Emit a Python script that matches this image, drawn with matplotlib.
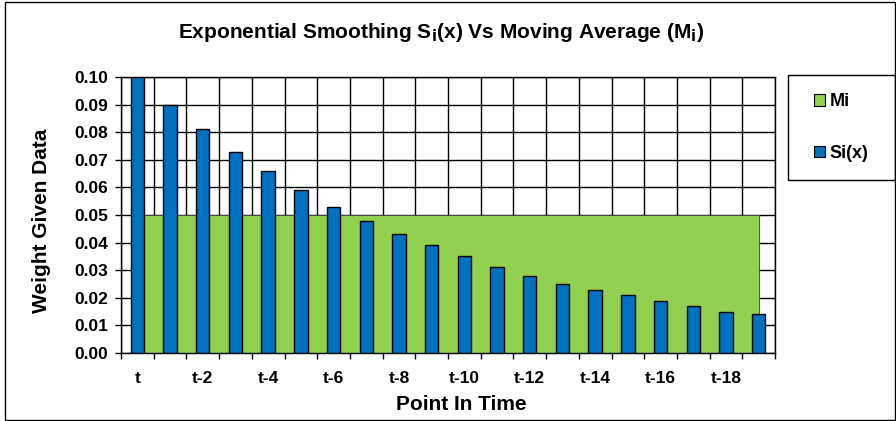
import numpy as np
import matplotlib
matplotlib.use('Agg')
import matplotlib.pyplot as plt
from matplotlib.patches import Rectangle

plt.rcParams['font.family'] = ['Liberation Sans', 'DejaVu Sans']
plt.rcParams['font.weight'] = 'bold'

# data
periods = ['t', 't-1', 't-2', 't-3', 't-4', 't-5', 't-6', 't-7', 't-8', 't-9',
           't-10', 't-11', 't-12', 't-13', 't-14', 't-15', 't-16', 't-17', 't-18', 't-19']
mi = [0.05] * 20
si = [0.100, 0.090, 0.081, 0.073, 0.066, 0.059, 0.053, 0.048, 0.043, 0.039,
      0.035, 0.031, 0.028, 0.025, 0.023, 0.021, 0.019, 0.017, 0.015, 0.014]
yticks = [0.00, 0.01, 0.02, 0.03, 0.04, 0.05, 0.06, 0.07, 0.08, 0.09, 0.10]

W, H = 896, 421
fig = plt.figure(figsize=(W/100, H/100), dpi=100)
ax = fig.add_axes([121/W, 1-353/H, (775-121)/W, (353-77)/H])

x = np.arange(len(periods))
ax.fill_between(x, mi, color='#92D050', edgecolor='#404040', linewidth=0.6,
                zorder=2, label='Mi')
ax.bar(x, si, width=0.41, color='#0070C0', edgecolor='black', linewidth=1,
       zorder=3, label='Si(x)')

ax.set_xlim(-0.5, len(periods)-0.5)
ax.set_ylim(0, 0.10)
ax.set_yticks(yticks)
ax.set_yticklabels(['{:.2f}'.format(v) for v in yticks])
ax.set_xticks(x[::2])
ax.set_xticklabels(periods[::2])
ax.set_xticks(np.arange(-0.5, len(periods), 1), minor=True)
ax.tick_params(axis='x', which='major', length=0, pad=13, labelsize=12.5)
ax.tick_params(axis='x', which='minor', length=4, width=1, direction='out')
ax.tick_params(axis='y', length=4, width=1, direction='out', labelsize=12.5, pad=5)
ax.grid(which='minor', axis='x', color='black', linewidth=1, zorder=0)
ax.grid(which='major', axis='y', color='black', linewidth=1, zorder=0)
ax.set_axisbelow(True)
for s in ax.spines.values():
    s.set_color('black')
    s.set_linewidth(1)

ax.set_xlabel('Point In Time', fontsize=15, fontweight='bold')
ax.set_ylabel('Weight Given Data', fontsize=15, fontweight='bold')
ax.xaxis.set_label_coords((461-121)/654, (353-405)/276)
ax.yaxis.set_label_coords((42-121)/654, 0.48)
for lab in (ax.xaxis.label, ax.yaxis.label):
    lab.set_verticalalignment('center')
fig.text(441/W, 1-32/H, r'Exponential Smoothing S$_\mathbf{i}$(x) Vs Moving Average (M$_\mathbf{i}$)',
         ha='center', va='center', fontsize=15, fontweight='bold')

# legend box
fig.patches.append(Rectangle((788/W, 1-180/H), 107/W, 105/H, transform=fig.transFigure,
                             fill=False, edgecolor='black', linewidth=1))
leg = ax.legend(loc='center', bbox_to_anchor=(788/W, 1-180/H, 107/W, 105/H),
                bbox_transform=fig.transFigure, borderaxespad=0, frameon=False,
                handlelength=0.6, handleheight=0.6, handletextpad=0.25,
                labelspacing=1.9, prop={'size': 13, 'weight': 'bold'})
for h in leg.legend_handles:
    h.set_edgecolor('black')
    h.set_linewidth(0.8)

# chart area border
fig.patches.append(Rectangle((5/W, 1/H), 890/W, 418/H, transform=fig.transFigure,
                             fill=False, edgecolor='black', linewidth=1))

fig.savefig('out.png', dpi=100)
